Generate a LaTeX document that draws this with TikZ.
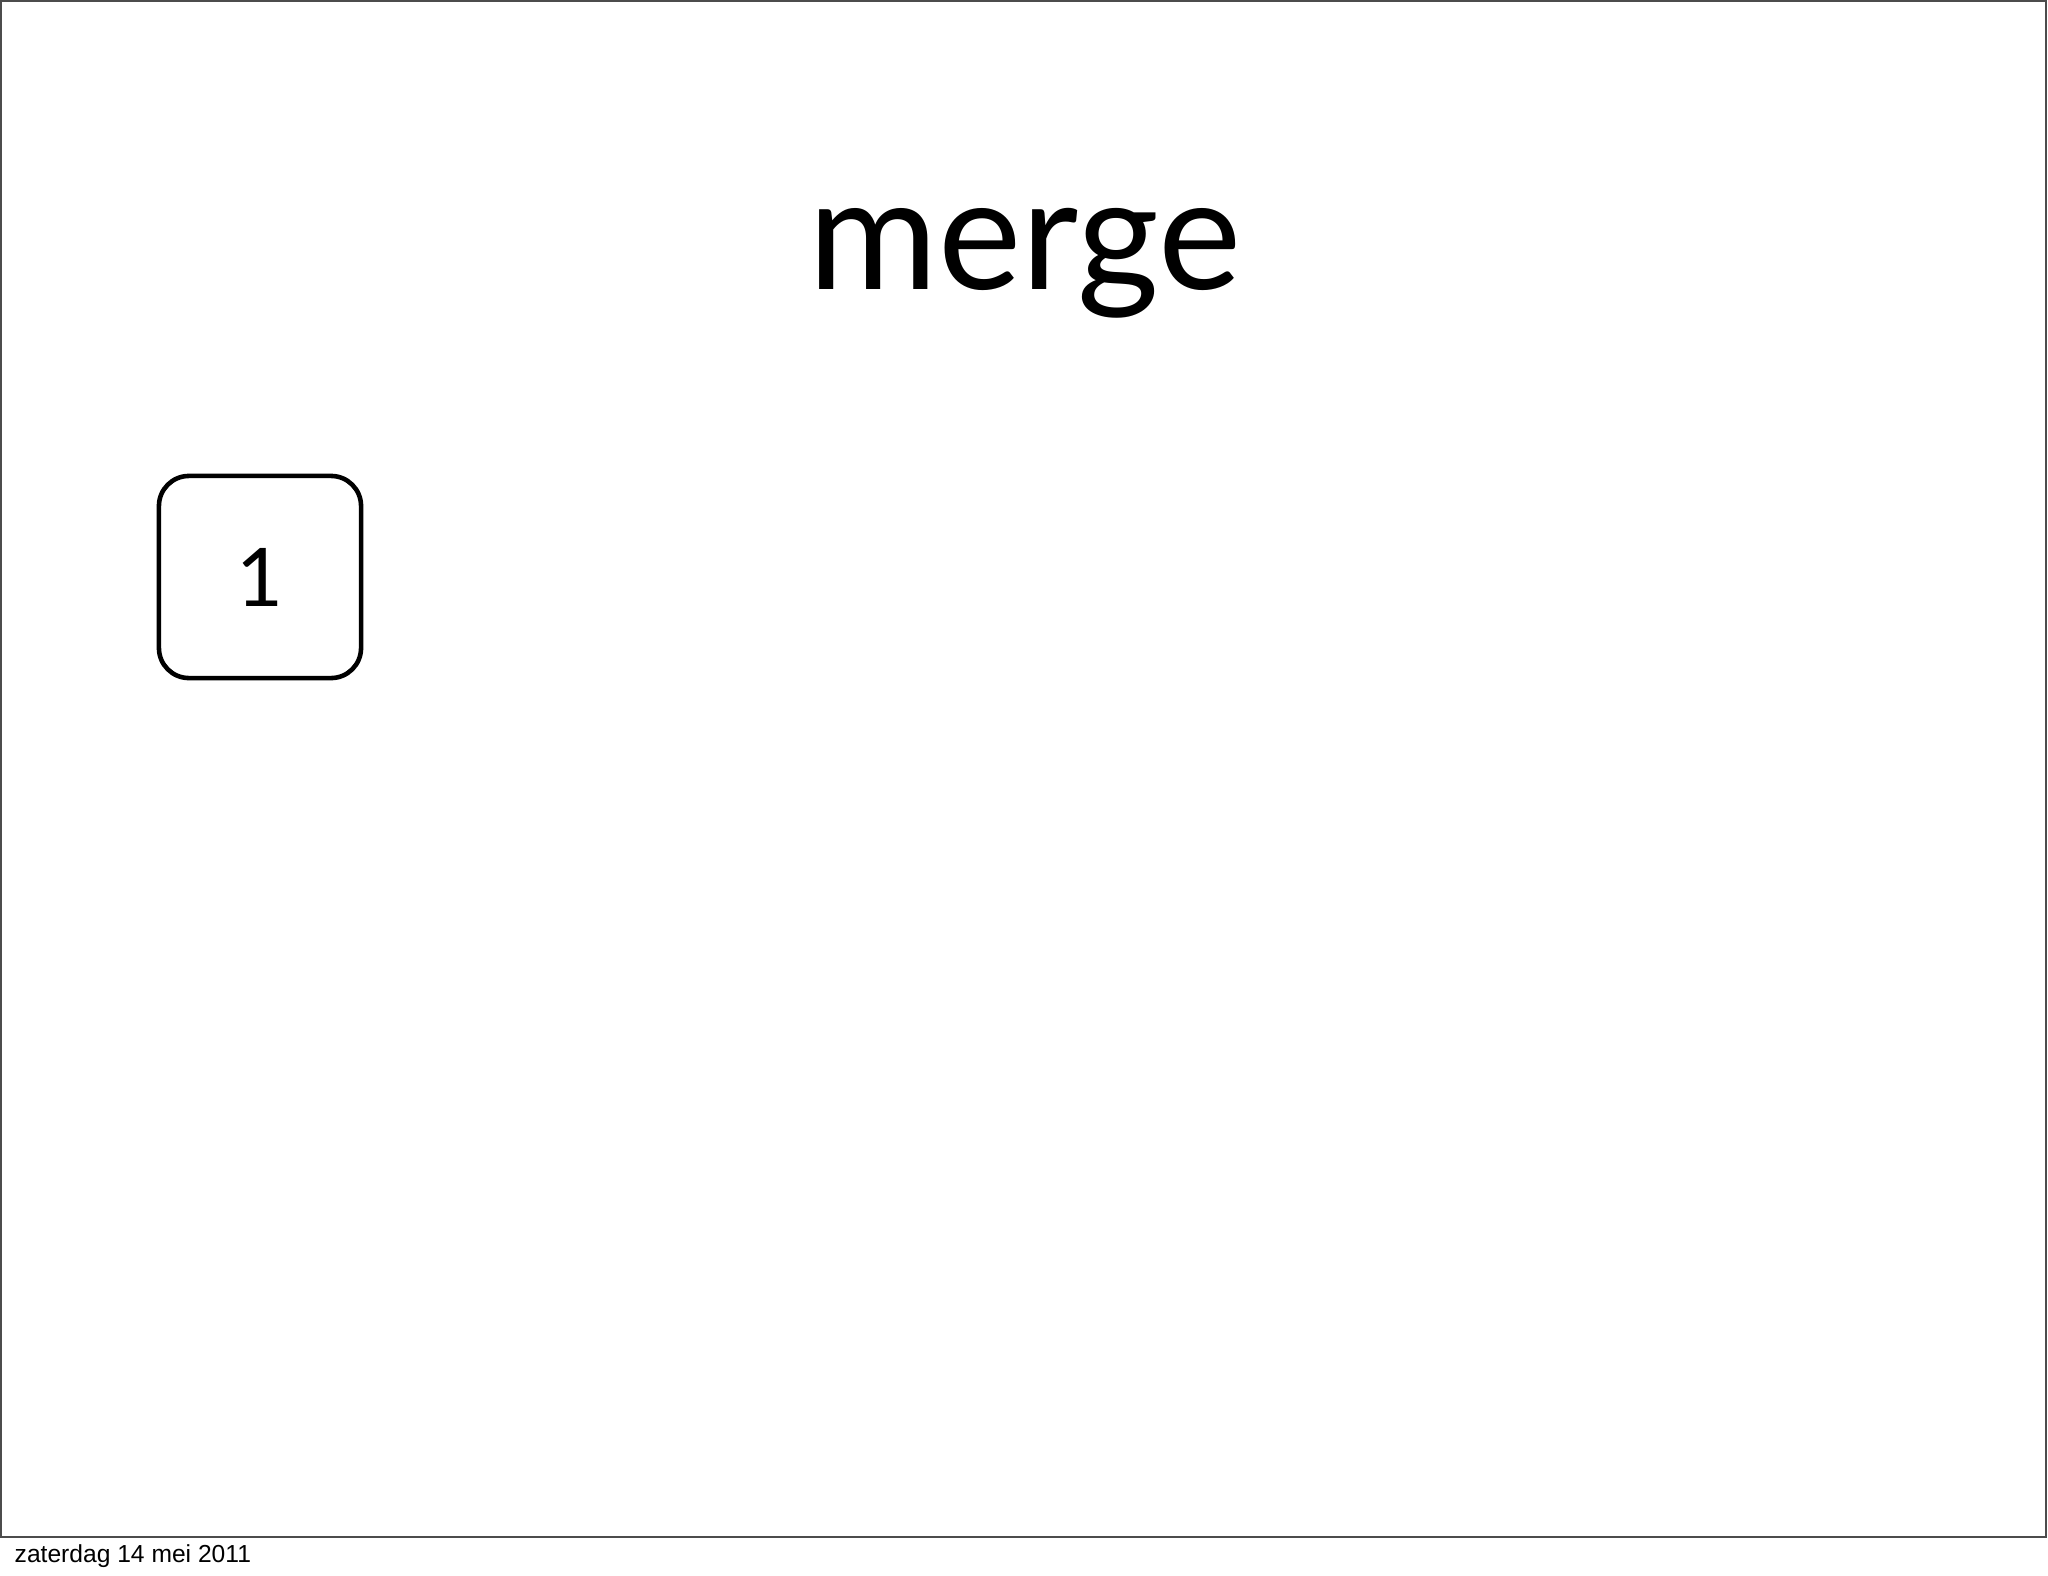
\documentclass[tikz,border=0pt]{standalone}
\usepackage{fontspec}
\setmainfont{Lato}
\newfontfamily\datefont{Liberation Sans}
\begin{document}
\begin{tikzpicture}[x=0.01cm,y=-0.01cm,
    tile/.style={draw,line width=1.3pt,rounded corners=0.3cm,minimum size=2.02cm,inner sep=0pt}]
      \useasboundingbox (0,0) rectangle (2048,1576);
      \draw[black!70,line width=0.7pt] (1,1) rectangle (2046,1537);
      \node[anchor=base,font=\fontsize{44.8}{52}\selectfont] (title) at (1025,290) {merge};
      \node[tile,font=\fontsize{23}{28}\selectfont] (one) at (260,577) {1};
      \node[anchor=base west,inner sep=0pt,font=\datefont\fontsize{7}{8}\selectfont] (date) at (14,1562) {zaterdag 14 mei 2011};
    \end{tikzpicture}
\end{document}
